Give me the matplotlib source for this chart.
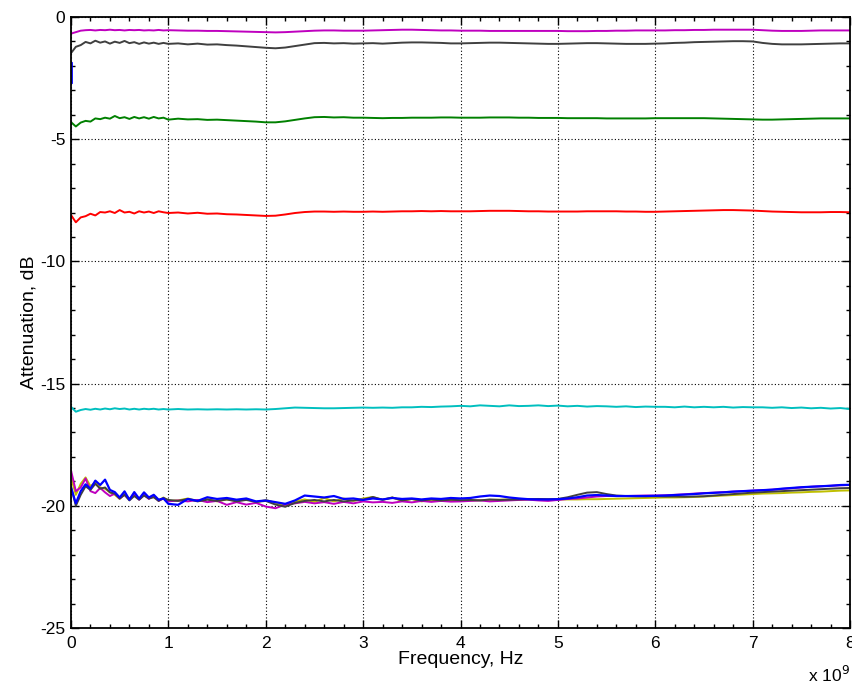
import matplotlib
matplotlib.use("Agg")

import matplotlib.pyplot as plt
import numpy as np
from matplotlib.ticker import MultipleLocator

# frequency grid in GHz: 0.05 steps up to 1 GHz, then 0.1 steps
freq = np.concatenate([np.linspace(0.0, 1.0, 21), np.linspace(1.1, 8.0, 70)])

magenta_top = [
    -0.68, -0.62, -0.56, -0.54, -0.53, -0.55, -0.53, -0.54, -0.52, -0.54, -0.53,
    -0.55, -0.53, -0.54, -0.53, -0.55, -0.54, -0.55, -0.53, -0.55, -0.54,
    -0.55, -0.56, -0.56, -0.57, -0.57, -0.58, -0.59, -0.60, -0.61, -0.62,
    -0.63, -0.62, -0.60, -0.58, -0.56, -0.55, -0.55, -0.56, -0.56, -0.56,
    -0.55, -0.54, -0.53, -0.52, -0.52, -0.53, -0.54, -0.55, -0.55, -0.56,
    -0.56, -0.56, -0.57, -0.57, -0.57, -0.57, -0.57, -0.57, -0.57, -0.57,
    -0.58, -0.58, -0.58, -0.57, -0.57, -0.56, -0.56, -0.55, -0.55, -0.55,
    -0.55, -0.54, -0.54, -0.53, -0.53, -0.52, -0.52, -0.52, -0.52, -0.52,
    -0.54, -0.56, -0.57, -0.57, -0.57, -0.56, -0.55, -0.55, -0.55, -0.55,
]

gray_top = [
    -1.48, -1.22, -1.15, -1.02, -1.08, -0.97, -1.05, -1.00, -1.09, -1.01, -1.06,
    -0.98, -1.07, -1.03, -1.10, -1.04, -1.09, -1.05, -1.10, -1.06, -1.10,
    -1.08, -1.12, -1.09, -1.13, -1.12, -1.15, -1.17, -1.20, -1.23, -1.26,
    -1.28, -1.25, -1.19, -1.13, -1.07, -1.06, -1.08, -1.07, -1.09, -1.08,
    -1.07, -1.09, -1.07, -1.05, -1.04, -1.04, -1.05, -1.06, -1.08, -1.08,
    -1.07, -1.06, -1.05, -1.05, -1.06, -1.07, -1.08, -1.09, -1.10, -1.10,
    -1.09, -1.08, -1.07, -1.07, -1.08, -1.09, -1.10, -1.10, -1.10, -1.09,
    -1.08, -1.06, -1.05, -1.03, -1.02, -1.01, -1.00, -0.99, -0.99, -1.00,
    -1.06, -1.10, -1.12, -1.12, -1.12, -1.11, -1.10, -1.09, -1.08, -1.08,
]

green = [
    -4.30, -4.48, -4.32, -4.25, -4.28, -4.15, -4.18, -4.12, -4.16, -4.05, -4.14,
    -4.10, -4.17, -4.09, -4.15, -4.10, -4.16, -4.09, -4.15, -4.12, -4.20,
    -4.16, -4.19, -4.18, -4.21, -4.20, -4.22, -4.24, -4.26, -4.28, -4.31,
    -4.31, -4.27, -4.21, -4.15, -4.10, -4.09, -4.11, -4.10, -4.12, -4.12,
    -4.13, -4.14, -4.13, -4.13, -4.12, -4.12, -4.12, -4.11, -4.11, -4.12,
    -4.12, -4.12, -4.11, -4.11, -4.11, -4.12, -4.12, -4.13, -4.13, -4.13,
    -4.14, -4.14, -4.14, -4.14, -4.15, -4.15, -4.15, -4.15, -4.15, -4.14,
    -4.14, -4.14, -4.14, -4.14, -4.14, -4.15, -4.16, -4.17, -4.18, -4.19,
    -4.20, -4.20, -4.19, -4.18, -4.17, -4.16, -4.15, -4.15, -4.15, -4.15,
]

red = [
    -8.10, -8.40, -8.20, -8.15, -8.05, -8.12, -7.98, -8.00, -7.95, -8.02, -7.90,
    -8.00, -7.97, -8.04, -7.95, -8.00, -7.96, -8.02, -7.95, -7.99, -8.02,
    -8.00, -8.04, -8.01, -8.05, -8.04, -8.07, -8.08, -8.10, -8.12, -8.14,
    -8.13, -8.08, -8.02, -7.98, -7.96, -7.96, -7.97, -7.96, -7.97, -7.97,
    -7.96, -7.97, -7.96, -7.95, -7.95, -7.94, -7.95, -7.94, -7.95, -7.95,
    -7.95, -7.94, -7.93, -7.93, -7.93, -7.94, -7.95, -7.95, -7.96, -7.96,
    -7.96, -7.96, -7.95, -7.95, -7.95, -7.95, -7.96, -7.96, -7.97, -7.97,
    -7.96, -7.95, -7.94, -7.93, -7.92, -7.91, -7.90, -7.90, -7.91, -7.92,
    -7.94, -7.96, -7.97, -7.98, -7.99, -7.99, -7.99, -7.98, -7.98, -7.99,
]

cyan = [
    -15.95, -16.15, -16.08, -16.04, -16.07, -16.03, -16.06, -16.02, -16.05, -16.01, -16.04,
    -16.02, -16.06, -16.03, -16.06, -16.03, -16.05, -16.03, -16.06, -16.04, -16.06,
    -16.04, -16.06, -16.05, -16.06, -16.05, -16.06, -16.05, -16.06, -16.05, -16.06,
    -16.04, -16.01, -15.98, -15.99, -16.00, -16.01, -16.01, -16.00, -15.99, -15.98,
    -15.99, -15.98, -15.99, -15.97, -15.97, -15.95, -15.96, -15.94, -15.93, -15.91,
    -15.93, -15.89, -15.91, -15.93, -15.89, -15.92, -15.91, -15.89, -15.92, -15.90,
    -15.93, -15.91, -15.94, -15.92, -15.93, -15.95, -15.93, -15.96, -15.94, -15.95,
    -15.95, -15.97, -15.94, -15.97, -15.95, -15.97, -15.95, -15.98, -15.96, -15.97,
    -15.97, -15.99, -15.97, -16.00, -15.98, -16.01, -15.99, -16.02, -16.00, -16.04,
]

yellow_low = [
    -18.84, -19.55, -19.10, -18.84, -19.20, -19.05, -19.25, -19.30, -19.45, -19.55, -19.72,
    -19.52, -19.72, -19.50, -19.72, -19.50, -19.70, -19.58, -19.78, -19.66, -19.80,
    -19.78, -19.70, -19.80, -19.72, -19.82, -19.74, -19.80, -19.72, -19.86, -19.76,
    -19.88, -19.98, -19.82, -19.74, -19.84, -19.68, -19.82, -19.70, -19.80, -19.70,
    -19.64, -19.76, -19.66, -19.80, -19.72, -19.82, -19.75, -19.80, -19.77, -19.78,
    -19.78, -19.77, -19.76, -19.75, -19.74, -19.74, -19.73, -19.73, -19.74, -19.74,
    -19.74, -19.74, -19.73, -19.73, -19.72, -19.71, -19.70, -19.69, -19.68, -19.67,
    -19.66, -19.66, -19.65, -19.64, -19.62, -19.60, -19.58, -19.56, -19.54, -19.52,
    -19.50, -19.49, -19.48, -19.46, -19.45, -19.43, -19.42, -19.40, -19.38, -19.37,
]

magenta_low = [
    -18.55, -19.40, -19.25, -18.88, -19.40, -19.48, -19.27, -19.45, -19.60, -19.50, -19.70,
    -19.55, -19.75, -19.55, -19.75, -19.55, -19.72, -19.60, -19.80, -19.70, -19.82,
    -19.78, -19.82, -19.76, -19.85, -19.80, -19.96, -19.85, -19.95, -19.88, -20.03,
    -20.10, -19.95, -19.90, -19.84, -19.90, -19.85, -19.92, -19.84, -19.90, -19.82,
    -19.86, -19.84, -19.88, -19.82, -19.86, -19.80, -19.84, -19.80, -19.83, -19.82,
    -19.80, -19.78, -19.82, -19.80, -19.78, -19.76, -19.75, -19.78, -19.80, -19.76,
    -19.72, -19.70, -19.66, -19.62, -19.60, -19.60, -19.60, -19.59, -19.58, -19.58,
    -19.57, -19.55, -19.53, -19.50, -19.48, -19.46, -19.44, -19.42, -19.40, -19.38,
    -19.36, -19.34, -19.31, -19.28, -19.25, -19.22, -19.20, -19.18, -19.16, -19.15,
]

gray_low = [
    -19.20, -20.00, -19.55, -19.20, -19.35, -19.10, -19.30, -19.25, -19.45, -19.50, -19.70,
    -19.55, -19.78, -19.60, -19.75, -19.58, -19.70, -19.65, -19.80, -19.68, -19.76,
    -19.80, -19.72, -19.82, -19.75, -19.80, -19.74, -19.82, -19.76, -19.84, -19.80,
    -19.95, -20.04, -19.88, -19.80, -19.76, -19.82, -19.76, -19.82, -19.78, -19.75,
    -19.64, -19.75, -19.66, -19.78, -19.72, -19.78, -19.74, -19.78, -19.75, -19.77,
    -19.76, -19.78, -19.74, -19.76, -19.75, -19.74, -19.73, -19.72, -19.73, -19.72,
    -19.65, -19.55, -19.46, -19.44, -19.52, -19.58, -19.60, -19.61, -19.61, -19.61,
    -19.62, -19.62, -19.63, -19.62, -19.61, -19.58, -19.55, -19.52, -19.49, -19.46,
    -19.44, -19.42, -19.40, -19.38, -19.36, -19.34, -19.32, -19.30, -19.28, -19.27,
]

blue_low = [
    -19.25, -19.90, -19.40, -19.12, -19.30, -18.97, -19.15, -18.93, -19.35, -19.44, -19.66,
    -19.41, -19.75, -19.44, -19.71, -19.45, -19.66, -19.55, -19.75, -19.70, -19.92,
    -19.96, -19.72, -19.80, -19.65, -19.72, -19.68, -19.75, -19.70, -19.82, -19.78,
    -19.85, -19.92, -19.78, -19.58, -19.62, -19.66, -19.60, -19.72, -19.70, -19.76,
    -19.70, -19.74, -19.68, -19.72, -19.70, -19.74, -19.70, -19.72, -19.68, -19.70,
    -19.68, -19.62, -19.58, -19.60, -19.66, -19.70, -19.73, -19.74, -19.74, -19.73,
    -19.70, -19.65, -19.58, -19.56, -19.58, -19.60, -19.60, -19.60, -19.60, -19.59,
    -19.58, -19.56, -19.54, -19.52, -19.49, -19.47, -19.45, -19.42, -19.40, -19.38,
    -19.36, -19.34, -19.30, -19.27, -19.24, -19.22, -19.20, -19.18, -19.15, -19.14,
]

# short blue trace visible only at 0 Hz
blue_top_freq = [0.0, 0.0]
blue_top = [-1.9, -2.65]

x_ticks = [0, 1, 2, 3, 4, 5, 6, 7, 8]
y_ticks = [0, -5, -10, -15, -20, -25]

plt.rcParams["font.family"] = ["Liberation Sans", "DejaVu Sans"]
plt.rcParams["axes.unicode_minus"] = False

fig = plt.figure(figsize=(8.52, 6.88), dpi=100)
ax = fig.add_axes([0.0833, 0.0872, 0.9144, 0.8881])

lw = 1.4
ax.plot(freq, magenta_top, color="#bf00bf", lw=lw)
ax.plot(freq, gray_top, color="#404040", lw=lw)
ax.plot(blue_top_freq, blue_top, color="#0000ff", lw=2.0)
ax.plot(freq, green, color="#008000", lw=lw)
ax.plot(freq, red, color="#ff0000", lw=lw)
ax.plot(freq, cyan, color="#00bfbf", lw=lw)
ax.plot(freq, yellow_low, color="#bfbf00", lw=lw)
ax.plot(freq, magenta_low, color="#bf00bf", lw=lw)
ax.plot(freq, gray_low, color="#404040", lw=lw)
ax.plot(freq, blue_low, color="#0000ff", lw=1.6)

ax.set_xlim(0, 8)
ax.set_ylim(-25, 0)
ax.set_xticks(x_ticks)
ax.set_yticks(y_ticks)
ax.xaxis.set_minor_locator(MultipleLocator(0.2))
ax.yaxis.set_minor_locator(MultipleLocator(1))
ax.tick_params(which="both", direction="in", top=True, right=True,
               labelsize=12.5, color="black")
ax.tick_params(axis="y", pad=4)
ax.tick_params(axis="x", pad=6)
ax.tick_params(which="major", length=6, width=1.0)
ax.tick_params(which="minor", length=3, width=1.0)
for spine in ax.spines.values():
    spine.set_linewidth(1.3)

ax.grid(True, which="major", linestyle=(0, (1, 2)), color="black", lw=0.8)
ax.set_axisbelow(True)

ax.set_xlabel("Frequency, Hz", fontsize=14, labelpad=0)
ax.set_ylabel("Attenuation, dB", fontsize=14, labelpad=2)
fig.text(0.948, 0.005, "x 10$^{9}$", fontsize=12.5, ha="left", va="bottom")

fig.savefig("out.png", dpi=100)
